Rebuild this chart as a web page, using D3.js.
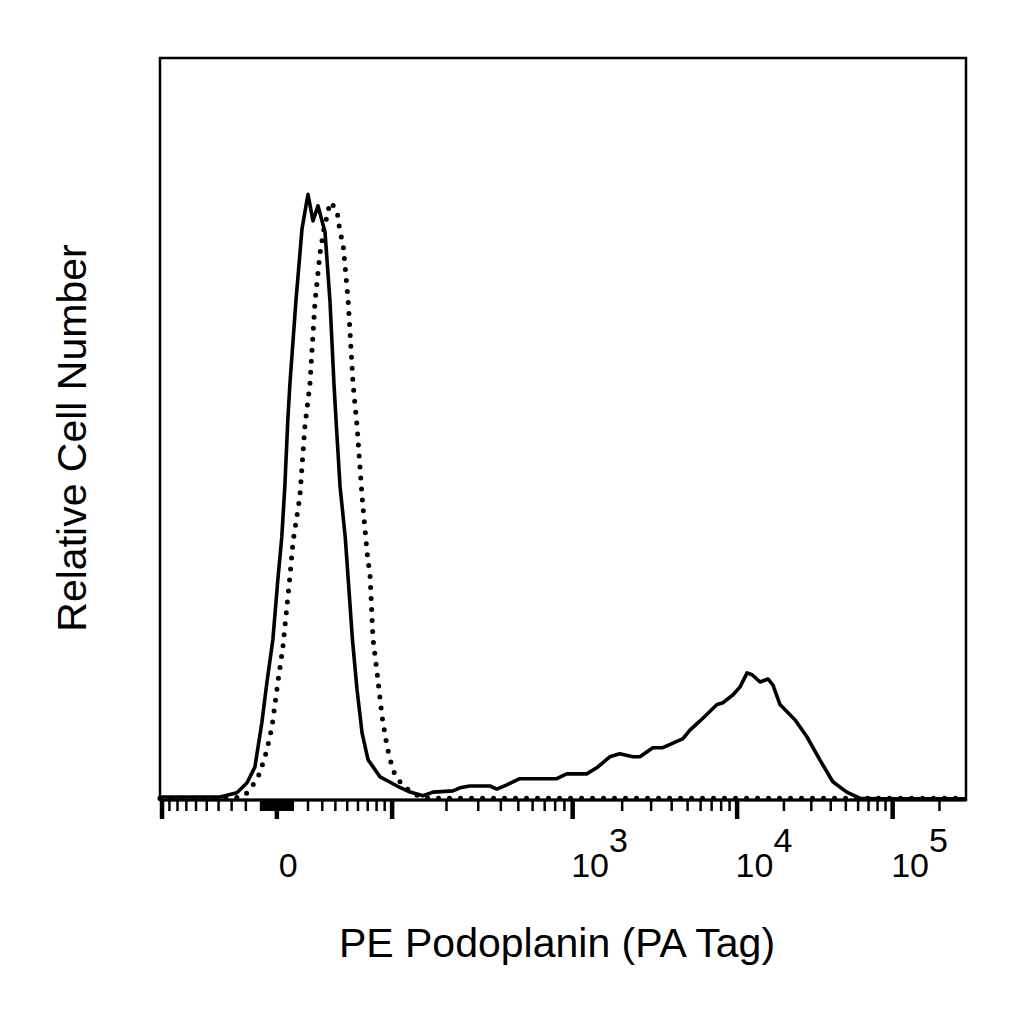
<!DOCTYPE html>
<html>
<head>
<meta charset="utf-8">
<script src="https://d3js.org/d3.v7.min.js"></script>
<style>
  html, body { margin: 0; padding: 0; background: #fff; }
  text { font-family: "Liberation Sans", Arial, sans-serif; fill: #000; }
</style>
</head>
<body>
<svg id="chart" width="1024" height="1024"></svg>
<script>
// histogram: intensity (PE) vs relative count
// solid = stained, dotted = control
var solidIntensity = [-103, -66.1, -38.9, -26.2, -19.3, -14.0, -9.5, -6.3, -2.5, 0.6,
  3.1, 5.0, 6.9, 8.2, 12.0, 16.0, 20.0, 23.4, 26.9, 32.0,
  35.8, 38.9, 40.5, 43.8, 48.2, 50.9, 54.7, 59.1, 64.1, 70.4,
  84.2, 106.6, 125.7, 148.3, 168.5, 217.3, 237.5, 269.8, 347.9, 380.3,
  431.9, 509.5, 815.7, 926.5, 1217, 1401, 1681, 1934, 2322, 2562,
  3074, 3538, 4686, 5169, 5949, 7551, 8215, 9454, 10453, 11590,
  12480, 14040, 15800, 17010, 18860, 23540, 28100, 34050, 41240, 50710,
  61440, 82530, 294000];
var solidCount = [0.5, 0.5, 0.5, 1.2, 2.8, 5.4, 12.7, 19.3, 26.4, 36.2,
  43.3, 51.6, 62.6, 68.4, 81.9, 93.9, 99.6, 95.2, 97.7, 93.4,
  81.9, 68.4, 62.6, 51.6, 43.3, 36.2, 26.4, 18.1, 11.0, 6.6,
  3.8, 2.3, 1.3, 0.7, 1.3, 1.5, 2.0, 2.3, 2.3, 1.8,
  2.5, 3.5, 3.5, 4.3, 4.3, 5.3, 7.1, 7.6, 7.1, 7.1,
  8.6, 8.6, 10.1, 11.5, 13.0, 15.7, 16.0, 17.3, 18.6, 20.9,
  20.6, 19.4, 19.9, 18.9, 15.7, 13.2, 10.4, 6.6, 3.0, 1.3,
  0.3, 0.2, 0.2];

var dottedIntensity = [-103, -27.6, -20.6, -16.0, -10.8, -6.3, -3.1, 0.6, 3.8, 8.2,
  10.1, 14.6, 17.9, 21.3, 24.8, 28.3, 31.2, 33.5, 35.8, 38.1,
  41.4, 43.8, 46.4, 50.9, 55.3, 59.1, 64.1, 69.3, 72.6, 75.9,
  80.6, 86.7, 93.2, 100, 103.9, 113.6, 129.0, 142.8, 162.2, 294000];
var dottedCount = [0.3, 0.3, 0.8, 2.1, 4.4, 8.2, 12.0, 19.3, 25.2, 36.7,
  42.3, 49.9, 61.4, 68.4, 81.9, 89.8, 93.9, 96.0, 98.3, 97.8,
  96.8, 93.4, 91.4, 81.9, 68.4, 61.4, 49.9, 40.7, 36.7, 26.4,
  20.9, 13.7, 8.7, 5.4, 4.1, 2.5, 1.2, 0.5, 0.3, 0.3];

// axis
var majorTicks = [-100, 0, 100, 1e3, 1e4, 1e5];
var labelValues = [0, 1e3, 1e4, 1e5];
var labelBase = ["0", "10", "10", "10"];
var labelExp = ["", "3", "4", "5"];
var xTitle = "PE Podoplanin (PA Tag)";
var yTitle = "Relative Cell Number";

var plot = {left: 160, top: 58, right: 966, bottom: 800};
var w = plot.right - plot.left;

// biexponential-ish display: asinh near zero, log decades above 100
var linC = 50;
function decade(v) {
  if (v <= 100) return Math.asinh(v / linC) / Math.asinh(100 / linC);
  return 1 + Math.log10(v / 100);
}
// where each decade boundary sits along the axis (fraction of width)
var decadeStops = [0.0025, 0.145, 0.288, 0.512, 0.716, 0.909];
var u = d3.scaleLinear()
  .domain([-1, 0, 1, 2, 3, 4])
  .range(decadeStops.map(function(f) { return plot.left + f * w; }));
var x = function(v) { return u(decade(v)); };

var y = d3.scaleLinear().domain([0, 122]).range([plot.bottom, plot.top]);

// minor ticks: 1..9 and 10..90 either side of zero, then 2..9 x each decade
var minorTicks = [];
[1, 10].forEach(function(s) {
  for (var k = 1; k <= 9; k++) { minorTicks.push(k * s, -k * s); }
});
[100, 1e3, 1e4, 1e5].forEach(function(s) {
  for (var k = 2; k <= 9; k++) { if (k * s < 294000) minorTicks.push(k * s); }
});

var svg = d3.select("#chart");

// frame
svg.append("rect")
  .attr("x", plot.left).attr("y", plot.top)
  .attr("width", w).attr("height", plot.bottom - plot.top)
  .attr("fill", "none").attr("stroke", "#000").attr("stroke-width", 2.5);

var line = d3.line()
  .x(function(d) { return x(d[0]); })
  .y(function(d) { return y(d[1]); });

var dotted = d3.zip(dottedIntensity, dottedCount);
var solid = d3.zip(solidIntensity, solidCount);

svg.append("path")
  .attr("d", line(dotted))
  .attr("fill", "none")
  .attr("stroke", "#000")
  .attr("stroke-width", 5)
  .attr("stroke-linecap", "round")
  .attr("stroke-dasharray", "0 11");

svg.append("path")
  .attr("d", line(solid))
  .attr("fill", "none")
  .attr("stroke", "#000")
  .attr("stroke-width", 3.6)
  .attr("stroke-linejoin", "round");

// x axis line and ticks
svg.append("line")
  .attr("x1", plot.left).attr("x2", plot.right)
  .attr("y1", plot.bottom).attr("y2", plot.bottom)
  .attr("stroke", "#000").attr("stroke-width", 3);

svg.selectAll("line.minor")
  .data(minorTicks)
  .enter().append("line")
  .attr("class", "minor")
  .attr("x1", function(d) { return x(d); })
  .attr("x2", function(d) { return x(d); })
  .attr("y1", plot.bottom)
  .attr("y2", plot.bottom + 11)
  .attr("stroke", "#000").attr("stroke-width", 2.5);

svg.selectAll("line.major")
  .data(majorTicks)
  .enter().append("line")
  .attr("class", "major")
  .attr("x1", function(d) { return x(d); })
  .attr("x2", function(d) { return x(d); })
  .attr("y1", plot.bottom)
  .attr("y2", plot.bottom + 19)
  .attr("stroke", "#000").attr("stroke-width", 4.5);

// tick labels, "10" with a raised exponent
var labels = svg.selectAll("text.tick")
  .data(labelValues)
  .enter().append("text")
  .attr("class", "tick")
  .attr("x", function(d) { return x(d) + (d === 0 ? 2 : -1.5); })
  .attr("y", 877)
  .attr("font-size", 34);
labels.append("tspan").text(function(d, i) { return labelBase[i]; });
labels.append("tspan")
  .attr("dy", -25)
  .text(function(d, i) { return labelExp[i]; });

// axis titles
svg.append("text")
  .attr("x", 557).attr("y", 957)
  .attr("text-anchor", "middle")
  .attr("font-size", 41)
  .text(xTitle);

svg.append("text")
  .attr("transform", "translate(86,438) rotate(-90)")
  .attr("text-anchor", "middle")
  .attr("font-size", 41)
  .text(yTitle);
</script>
</body>
</html>
